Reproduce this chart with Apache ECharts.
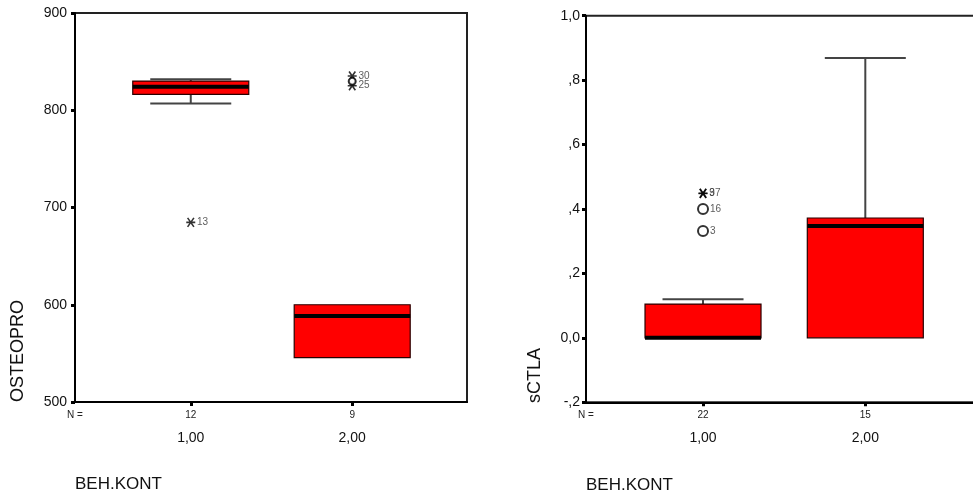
<!DOCTYPE html>
<html><head><meta charset="utf-8">
<script src="https://cdn.jsdelivr.net/npm/echarts@6/dist/echarts.min.js"></script>
<style>html,body{margin:0;padding:0;background:#fff}#c{width:973px;height:497px}</style>
</head><body><div id="c"></div>
<script>
// ---- shared ----
const groupCodes = [1, 2];
const categoryLabels = ['1,00', '2,00'];
const xTitle = 'BEH.KONT';

// ---- left panel: OSTEOPRO ----
const osteoCounts = ['12', '9'];
const osteoMin = [807, 545.7];
const osteoQ1 = [816.3, 545.7];
const osteoMedian = [824.2, 588.5];
const osteoQ3 = [830, 600];
const osteoMax = [832, 600];
const osteoExtremeGroup = [1, 2, 2];
const osteoExtremeValue = [684.7, 835.2, 825.2];
const osteoExtremeCase = ['13', '30', '25'];
const osteoOutlierGroup = [2];
const osteoOutlierValue = [829.7];
const osteoOutlierCase = [''];
const osteoTickLabels = ['500', '600', '700', '800', '900'];

// ---- right panel: sCTLA ----
const ctlaCounts = ['22', '15'];
const ctlaMin = [0, 0];
const ctlaQ1 = [0, 0];
const ctlaMedian = [0, 0.347];
const ctlaQ3 = [0.105, 0.372];
const ctlaMax = [0.12, 0.869];
const ctlaExtremeGroup = [1, 1];
const ctlaExtremeValue = [0.449, 0.448];
const ctlaExtremeCase = ['37', '9'];
const ctlaOutlierGroup = [1, 1];
const ctlaOutlierValue = [0.40, 0.332];
const ctlaOutlierCase = ['16', '3'];
const ctlaTickLabels = ['-,2', '0,0', ',2', ',4', ',6', ',8', '1,0'];

const FONT = '"Liberation Sans", Arial, sans-serif';
const STAR = 'path://M0,5L10,5M1.5,1.5L8.5,8.5M8.5,1.5L1.5,8.5';

function boxRenderer(params, api) {
  const x = api.value(0);
  const vMin = api.value(1), vQ1 = api.value(2), vQ3 = api.value(4), vMax = api.value(5);
  const pMin = api.coord([x, vMin]);
  const pQ1 = api.coord([x, vQ1]);
  const pMed = api.coord([x, api.value(3)]);
  const pQ3 = api.coord([x, vQ3]);
  const pMax = api.coord([x, vMax]);
  const cx = pMin[0];
  const bw = 116, cw = 81;
  const ws = { stroke: '#444', lineWidth: 2 };
  const ch = [];
  if (vMax > vQ3) {
    ch.push({ type: 'line', shape: { x1: cx, y1: pMax[1], x2: cx, y2: pQ3[1] }, style: ws });
    ch.push({ type: 'line', shape: { x1: cx - cw / 2, y1: pMax[1], x2: cx + cw / 2, y2: pMax[1] }, style: ws });
  }
  if (vMin < vQ1) {
    ch.push({ type: 'line', shape: { x1: cx, y1: pMin[1], x2: cx, y2: pQ1[1] }, style: ws });
    ch.push({ type: 'line', shape: { x1: cx - cw / 2, y1: pMin[1], x2: cx + cw / 2, y2: pMin[1] }, style: ws });
  }
  ch.push({ type: 'rect', shape: { x: cx - bw / 2, y: pQ3[1], width: bw, height: pQ1[1] - pQ3[1] },
    style: { fill: '#ff0000', stroke: '#2a0000', lineWidth: 1.2 } });
  ch.push({ type: 'line', shape: { x1: cx - bw / 2, y1: pMed[1], x2: cx + bw / 2, y2: pMed[1] },
    style: { stroke: '#000', lineWidth: 4 } });
  return { type: 'group', children: ch };
}

function boxData(mn, q1, md, q3, mx) {
  return groupCodes.map((g, i) => [g, mn[i], q1[i], md[i], q3[i], mx[i]]);
}
function pts(groups, values, cases) {
  return groups.map((g, i) => [g, values[i], cases[i]]);
}

function xAxisFor(idx, xMin, xMax, counts) {
  return {
    gridIndex: idx, type: 'value', min: xMin, max: xMax,
    axisLine: { onZero: false, lineStyle: { color: '#000', width: 2 } },
    axisTick: { customValues: groupCodes, length: 4, lineStyle: { color: '#000', width: 3 } },
    splitLine: { show: false },
    axisLabel: {
      customValues: [xMin].concat(groupCodes), margin: 7,
      formatter: function (v) {
        const i = groupCodes.indexOf(v);
        if (i < 0) return '{n|N =}\n{c| }';
        return '{n|' + counts[i] + '}\n{c|' + categoryLabels[i] + '}';
      },
      rich: {
        n: { fontSize: 10, lineHeight: 12, fontFamily: FONT, color: '#222' },
        c: { fontSize: 14, lineHeight: 34, fontFamily: FONT, color: '#111' }
      }
    }
  };
}
function yAxisFor(idx, mn, mx, iv, labels, margin) {
  return {
    gridIndex: idx, type: 'value', min: mn, max: mx, interval: iv,
    axisLine: { show: true, onZero: false, lineStyle: { color: '#000', width: 2 } },
    axisTick: { show: true, length: 4, lineStyle: { color: '#000', width: 3 } },
    splitLine: { show: false },
    axisLabel: { margin: margin, fontSize: 14, fontFamily: FONT, color: '#111',
      formatter: function (v, i) { return labels[i]; } }
  };
}

const labelStyle = { show: true, position: 'right', distance: 1, fontSize: 10, fontFamily: FONT, color: '#333',
  formatter: p => p.value[2] };

const option = {
  animation: false,
  backgroundColor: '#fff',
  grid: [
    { left: 75, top: 13, width: 392, height: 389, outerBoundsMode: 'none', containLabel: false,
      show: true, borderColor: '#222', borderWidth: 2, backgroundColor: 'transparent' },
    { left: 586, top: 15.7, width: 396, height: 386.6, outerBoundsMode: 'none', containLabel: false,
      show: true, borderColor: '#222', borderWidth: 2, backgroundColor: 'transparent' }
  ],
  xAxis: [xAxisFor(0, 0.283, 2.711, osteoCounts), xAxisFor(1, 0.279, 2.719, ctlaCounts)],
  yAxis: [yAxisFor(0, 500, 900, 100, osteoTickLabels, 8), yAxisFor(1, -0.2, 1.0, 0.2, ctlaTickLabels, 6)],
  series: [
    { type: 'custom', xAxisIndex: 0, yAxisIndex: 0, renderItem: boxRenderer, encode: { x: 0, y: [1, 2, 3, 4, 5] },
      data: boxData(osteoMin, osteoQ1, osteoMedian, osteoQ3, osteoMax), z: 2 },
    { type: 'custom', xAxisIndex: 1, yAxisIndex: 1, renderItem: boxRenderer, encode: { x: 0, y: [1, 2, 3, 4, 5] },
      data: boxData(ctlaMin, ctlaQ1, ctlaMedian, ctlaQ3, ctlaMax), z: 2 },
    { type: 'scatter', xAxisIndex: 0, yAxisIndex: 0, symbol: STAR, symbolSize: 9,
      itemStyle: { color: 'rgba(0,0,0,0)', borderColor: '#000', borderWidth: 1.6 }, label: labelStyle,
      data: pts(osteoExtremeGroup, osteoExtremeValue, osteoExtremeCase), z: 3 },
    { type: 'scatter', xAxisIndex: 0, yAxisIndex: 0, symbol: 'emptyCircle', symbolSize: 7,
      itemStyle: { color: '#000', borderWidth: 1 }, label: labelStyle,
      data: pts(osteoOutlierGroup, osteoOutlierValue, osteoOutlierCase), z: 3 },
    { type: 'scatter', xAxisIndex: 1, yAxisIndex: 1, symbol: STAR, symbolSize: 9,
      itemStyle: { color: 'rgba(0,0,0,0)', borderColor: '#000', borderWidth: 1.6 }, label: labelStyle,
      data: pts(ctlaExtremeGroup, ctlaExtremeValue, ctlaExtremeCase), z: 3 },
    { type: 'scatter', xAxisIndex: 1, yAxisIndex: 1, symbol: 'emptyCircle', symbolSize: 10,
      itemStyle: { color: '#000', borderWidth: 1.1 }, label: labelStyle,
      data: pts(ctlaOutlierGroup, ctlaOutlierValue, ctlaOutlierCase), z: 3 }
  ],
  graphic: [
    { type: 'text', x: 18, y: 402, rotation: Math.PI / 2,
      style: { text: 'OSTEOPRO', font: '18px ' + FONT, fill: '#111', align: 'left', verticalAlign: 'middle' } },
    { type: 'text', x: 535, y: 403, rotation: Math.PI / 2,
      style: { text: 'sCTLA', font: '18px ' + FONT, fill: '#111', align: 'left', verticalAlign: 'middle' } },
    { type: 'text', x: 75, y: 484,
      style: { text: xTitle, font: '17px ' + FONT, fill: '#111', align: 'left', verticalAlign: 'middle' } },
    { type: 'text', x: 586, y: 485,
      style: { text: xTitle, font: '17px ' + FONT, fill: '#111', align: 'left', verticalAlign: 'middle' } }
  ]
};
const chart = echarts.init(document.getElementById('c'), null, { renderer: 'canvas' });
chart.setOption(option);
</script>
</body></html>
